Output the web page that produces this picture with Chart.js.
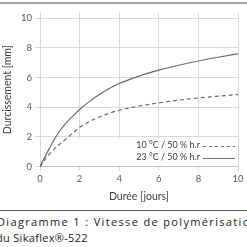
<!DOCTYPE html>
<html>
<head>
<meta charset="utf-8">
<script src="https://cdn.jsdelivr.net/npm/chart.js@4"></script>
<style>
html,body{margin:0;padding:0;background:#fff;overflow:hidden;}
body{width:247px;height:247px;position:relative;}
#top{position:absolute;left:0;top:2px;width:247px;height:2px;background:#a6a6a6;}
#wrap{position:absolute;left:0;top:0;width:247px;height:208px;}
#rule{position:absolute;left:0;top:210px;width:247px;height:1px;background:#555;}
.cap{position:absolute;white-space:nowrap;font-family:"Open Sans",sans-serif;font-size:11px;color:#222;line-height:14px;}
#c1{left:-3px;top:215px;letter-spacing:1.35px;}
#c2{left:-4px;top:231px;letter-spacing:0.3px;}
</style>
</head>
<body>
<div id="top"></div>
<div id="wrap"><canvas id="chart"></canvas></div>
<div id="rule"></div>
<div class="cap" id="c1">Diagramme 1 : Vitesse de polymérisation</div>
<div class="cap" id="c2">du Sikaflex®-522</div>
<script>
const days = [0, 0.25, 0.5, 0.75, 1, 1.25, 1.5, 1.75, 2, 2.5, 3, 3.5, 4, 5, 6, 7, 8, 9, 10];
const hardening10C = [0, 0.5, 0.88, 1.22, 1.52, 1.8, 2.08, 2.37, 2.65, 3.04, 3.35, 3.6, 3.8, 4.08, 4.3, 4.48, 4.63, 4.75, 4.86];
const hardening23C = [0, 0.67, 1.3, 1.9, 2.42, 2.84, 3.2, 3.53, 3.85, 4.4, 4.87, 5.27, 5.6, 6.1, 6.5, 6.83, 7.12, 7.37, 7.6];
const seriesLabels = ["10 °C / 50 % h.r", "23 °C / 50 % h.r"];
const yTickValues = [0, 2, 4, 6, 8, 10];
const xTitle = "Durée [jours]";
const yTitle = "Durcissement [mm]";

const lineColor = "#6b6b6b";
const gridColor = "#d9d9d9";
const fontFam = "Lato, 'Open Sans', sans-serif";

const legendPlugin = {
  id: 'inlineLegend',
  afterDatasetsDraw(chart) {
    const {ctx, chartArea} = chart;
    ctx.save();
    const boxL = chartArea.left + 27, boxR = chartArea.right - 1;
    const boxT = 138.5, boxB = chartArea.bottom - 1;
    ctx.fillStyle = '#fff';
    ctx.fillRect(boxL, boxT, boxR - boxL, boxB - boxT);
    ctx.font = "9px " + fontFam;
    ctx.textAlign = 'right';
    ctx.textBaseline = 'middle';
    chart.data.datasets.forEach((ds, i) => {
      const y = 145.5 + i * 12;
      ctx.fillStyle = '#404040';
      ctx.fillText(ds.label, 200, y);
      ctx.strokeStyle = lineColor;
      ctx.lineWidth = 1;
      ctx.setLineDash(ds.borderDash ? [3, 3] : []);
      ctx.beginPath();
      ctx.moveTo(203, Math.round(y) + 0.5);
      ctx.lineTo(235, Math.round(y) + 0.5);
      ctx.stroke();
    });
    ctx.restore();
  }
};

new Chart(document.getElementById('chart'), {
  type: 'line',
  data: {
    datasets: [
      {
        label: seriesLabels[0],
        data: days.map((d, i) => ({x: d, y: hardening10C[i]})),
        borderColor: lineColor,
        borderWidth: 1.2,
        borderDash: [4, 3],
        pointRadius: 0,
        cubicInterpolationMode: 'monotone',
        fill: false
      },
      {
        label: seriesLabels[1],
        data: days.map((d, i) => ({x: d, y: hardening23C[i]})),
        borderColor: lineColor,
        borderWidth: 1.2,
        pointRadius: 0,
        cubicInterpolationMode: 'monotone',
        fill: false
      }
    ]
  },
  options: {
    responsive: true,
    maintainAspectRatio: false,
    animation: false,
    devicePixelRatio: 1,
    layout: {padding: {left: 0, right: 9, top: 12.7, bottom: 0}},
    plugins: {legend: {display: false}, tooltip: {enabled: false}},
    scales: {
      x: {
        type: 'linear',
        min: 0, max: 10,
        afterFit(s) { s.height = 41.3; },
        ticks: {stepSize: 2, color: '#595959', font: {family: fontFam, size: 9.5}, padding: 3},
        grid: {color: gridColor, tickLength: 4, drawTicks: true},
        border: {color: '#bfbfbf'},
        title: {display: true, text: xTitle, color: '#404040', font: {family: fontFam, size: 10.5}, padding: {top: 0, bottom: 5.2}}
      },
      y: {
        min: 0, max: 10.37,
        afterFit(s) { s.width = 40; },
        afterBuildTicks(s) { s.ticks = yTickValues.map(v => ({value: v})); },
        ticks: {color: '#595959', font: {family: fontFam, size: 9.5}, padding: 3},
        grid: {color: gridColor, tickLength: 5, drawTicks: true},
        border: {color: gridColor},
        title: {display: true, text: yTitle, color: '#404040', font: {family: fontFam, size: 10.5}, padding: {top: 1.7, bottom: 0}}
      }
    }
  },
  plugins: [legendPlugin]
});
</script>
</body>
</html>
